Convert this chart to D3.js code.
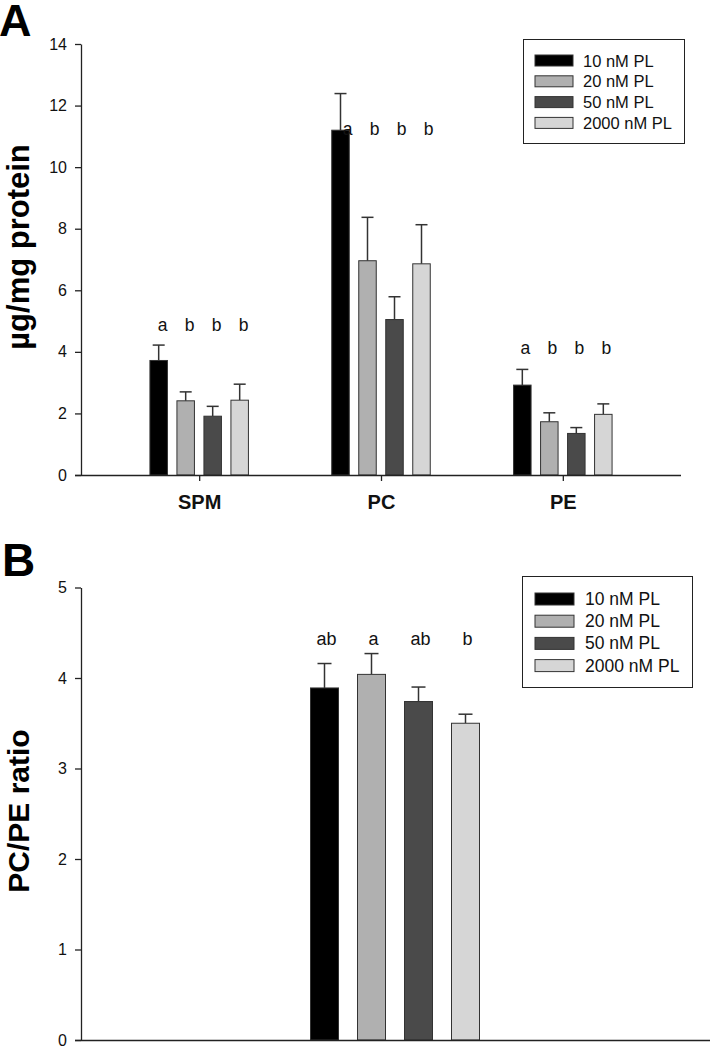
<!DOCTYPE html>
<html>
<head>
<meta charset="utf-8">
<script src="https://cdn.jsdelivr.net/npm/d3@7"></script>
<style>
  html, body { margin: 0; padding: 0; background: #fff; }
  svg { display: block; font-family: "Liberation Sans", Arial, sans-serif; }
</style>
</head>
<body>
<svg id="chart" width="710" height="1046"></svg>
<script>
// ---------- DATA ----------
const seriesNames = ["10 nM PL", "20 nM PL", "50 nM PL", "2000 nM PL"];
const seriesColors = ["#000000", "#b0b0b0", "#4a4a4a", "#d6d6d6"];

// Panel A
const categoriesA = ["SPM", "PC", "PE"];
const a10 = [3.72, 11.20, 2.92];
const a20 = [2.41, 6.96, 1.73];
const a50 = [1.91, 5.05, 1.35];
const a2000 = [2.43, 6.86, 1.97];
const a10Err = [0.50, 1.19, 0.51];
const a20Err = [0.29, 1.41, 0.29];
const a50Err = [0.32, 0.74, 0.19];
const a2000Err = [0.52, 1.27, 0.34];
const lettersA = [["a", "b", "b", "b"], ["a", "b", "b", "b"], ["a", "b", "b", "b"]];
const letterLevelA = [4.68, 11.05, 3.92];
const yTicksA = [0, 2, 4, 6, 8, 10, 12, 14];

// Panel B
const categoriesB = ["PC/PE"];
const ratioB = [3.89, 4.04, 3.74, 3.50];
const ratioErrB = [0.27, 0.23, 0.16, 0.10];
const lettersB = ["ab", "a", "ab", "b"];
const letterLevelB = 4.365;
const yTicksB = [0, 1, 2, 3, 4, 5];

// ---------- DRAW ----------
const svg = d3.select("#chart");
const axisColor = "#222";
const strokeColor = "#333";
const FONT = "'Liberation Sans', Arial, sans-serif";

function styleAxis(g) {
  g.attr("font-family", null).attr("font-size", null);
  g.selectAll("path.domain").attr("stroke", axisColor).attr("stroke-width", 1.3);
  g.selectAll(".tick line").attr("stroke", axisColor).attr("stroke-width", 1.3);
  g.selectAll(".tick text").attr("fill", "#111").style("font-family", FONT);
}

// ===== Panel A =====
const seriesA = [a10, a20, a50, a2000];
const errA = [a10Err, a20Err, a50Err, a2000Err];
const letterOffsetA = [4, 7, 3];

const yA = d3.scaleLinear().domain([0, 14]).range([475, 44]);
const xA = d3.scaleLinear().domain([0.35, 3.65]).range([81, 681]);
const barStepA = 27, barWA = 17.5;

svg.append("text").attr("x", -1).attr("y", 36).attr("font-size", 45).attr("font-weight", "bold").text("A");

const gA = svg.append("g");
categoriesA.forEach((cat, ci) => {
  const cx = xA(ci + 1);
  seriesA.forEach((s, si) => {
    const bx = cx + (si - 1.5) * barStepA;
    const v = s[ci], e = errA[si][ci];
    gA.append("line")
      .attr("x1", bx).attr("x2", bx)
      .attr("y1", yA(v)).attr("y2", yA(v + e))
      .attr("stroke", strokeColor).attr("stroke-width", 1.5);
    gA.append("line")
      .attr("x1", bx - 6).attr("x2", bx + 6)
      .attr("y1", yA(v + e)).attr("y2", yA(v + e))
      .attr("stroke", strokeColor).attr("stroke-width", 1.5);
    gA.append("rect")
      .attr("x", bx - barWA / 2).attr("y", yA(v))
      .attr("width", barWA).attr("height", yA(0) - yA(v))
      .attr("fill", seriesColors[si]).attr("stroke", strokeColor).attr("stroke-width", 1);
    gA.append("text")
      .attr("x", bx + letterOffsetA[ci]).attr("y", yA(letterLevelA[ci]))
      .attr("text-anchor", "middle").attr("font-size", 17.5).attr("fill", "#111")
      .text(lettersA[ci][si]);
  });
});

// axes A
const yAxisA = svg.append("g").attr("transform", "translate(81,0)")
  .call(d3.axisLeft(yA).tickValues(yTicksA).tickFormat(d3.format("d")).tickSize(6).tickPadding(8).tickSizeOuter(0));
styleAxis(yAxisA);
yAxisA.selectAll(".tick text").attr("font-size", 16);

const xAxisA = svg.append("g").attr("transform", "translate(0,475)")
  .call(d3.axisBottom(xA).tickValues([1, 2, 3]).tickSize(6).tickSizeOuter(0)
    .tickFormat((d) => categoriesA[d - 1]).tickPadding(14));
xAxisA.select("path.domain").attr("d", "M75,0.5H681");
styleAxis(xAxisA);
xAxisA.selectAll(".tick text").attr("font-size", 20).attr("font-weight", "bold");

svg.append("text")
  .attr("transform", "translate(29,247) rotate(-90)")
  .attr("text-anchor", "middle").attr("font-size", 31).attr("font-weight", "bold")
  .text("µg/mg protein");

// legend A
const legA = svg.append("g");
legA.append("rect").attr("x", 523.5).attr("y", 39.5).attr("width", 161).attr("height", 104)
  .attr("fill", "#fff").attr("stroke", "#222").attr("stroke-width", 1);
seriesNames.forEach((name, i) => {
  const cy = 60.5 + i * 20.8;
  legA.append("rect").attr("x", 535).attr("y", cy - 5.5).attr("width", 38).attr("height", 11)
    .attr("fill", seriesColors[i]).attr("stroke", strokeColor).attr("stroke-width", 1);
  legA.append("text").attr("x", 583).attr("y", cy + 6).attr("font-size", 16.5).attr("fill", "#111").text(name);
});

// ===== Panel B =====
const yB = d3.scaleLinear().domain([0, 5]).range([1040, 587.5]);
const xB = d3.scaleLinear().domain([0, 2]).range([81, 709]);
const barStepB = 47, barWB = 28;

svg.append("text").attr("x", 2).attr("y", 576).attr("font-size", 46).attr("font-weight", "bold").text("B");

const gB = svg.append("g");
const cxB = xB(1);
ratioB.forEach((v, si) => {
  const bx = cxB + (si - 1.5) * barStepB;
  const e = ratioErrB[si];
  gB.append("line")
    .attr("x1", bx).attr("x2", bx).attr("y1", yB(v)).attr("y2", yB(v + e))
    .attr("stroke", strokeColor).attr("stroke-width", 1.5);
  gB.append("line")
    .attr("x1", bx - 7).attr("x2", bx + 7).attr("y1", yB(v + e)).attr("y2", yB(v + e))
    .attr("stroke", strokeColor).attr("stroke-width", 1.5);
  gB.append("rect")
    .attr("x", bx - barWB / 2).attr("y", yB(v))
    .attr("width", barWB).attr("height", yB(0) - yB(v))
    .attr("fill", seriesColors[si]).attr("stroke", strokeColor).attr("stroke-width", 1);
  gB.append("text")
    .attr("x", bx + 2).attr("y", yB(letterLevelB))
    .attr("text-anchor", "middle").attr("font-size", 18).attr("fill", "#111")
    .text(lettersB[si]);
});

const yAxisB = svg.append("g").attr("transform", "translate(81,0)")
  .call(d3.axisLeft(yB).tickValues(yTicksB).tickFormat(d3.format("d")).tickSize(6).tickPadding(8).tickSizeOuter(0));
styleAxis(yAxisB);
yAxisB.selectAll(".tick text").attr("font-size", 16);

const xAxisB = svg.append("g").attr("transform", "translate(0,1040)")
  .call(d3.axisBottom(xB).tickValues([]).tickSizeOuter(0));
xAxisB.select("path.domain").attr("d", "M75,0.5H710");
styleAxis(xAxisB);

svg.append("text")
  .attr("transform", "translate(29,811) rotate(-90)")
  .attr("text-anchor", "middle").attr("font-size", 30).attr("font-weight", "bold")
  .text("PC/PE ratio");

// legend B
const legB = svg.append("g");
legB.append("rect").attr("x", 522.5).attr("y", 576.5).attr("width", 170).attr("height", 111)
  .attr("fill", "#fff").attr("stroke", "#222").attr("stroke-width", 1);
seriesNames.forEach((name, i) => {
  const cy = 599 + i * 22.2;
  legB.append("rect").attr("x", 535).attr("y", cy - 6).attr("width", 39).attr("height", 12)
    .attr("fill", seriesColors[i]).attr("stroke", strokeColor).attr("stroke-width", 1);
  legB.append("text").attr("x", 585).attr("y", cy + 6).attr("font-size", 17.5).attr("fill", "#111").text(name);
});
</script>
</body>
</html>
